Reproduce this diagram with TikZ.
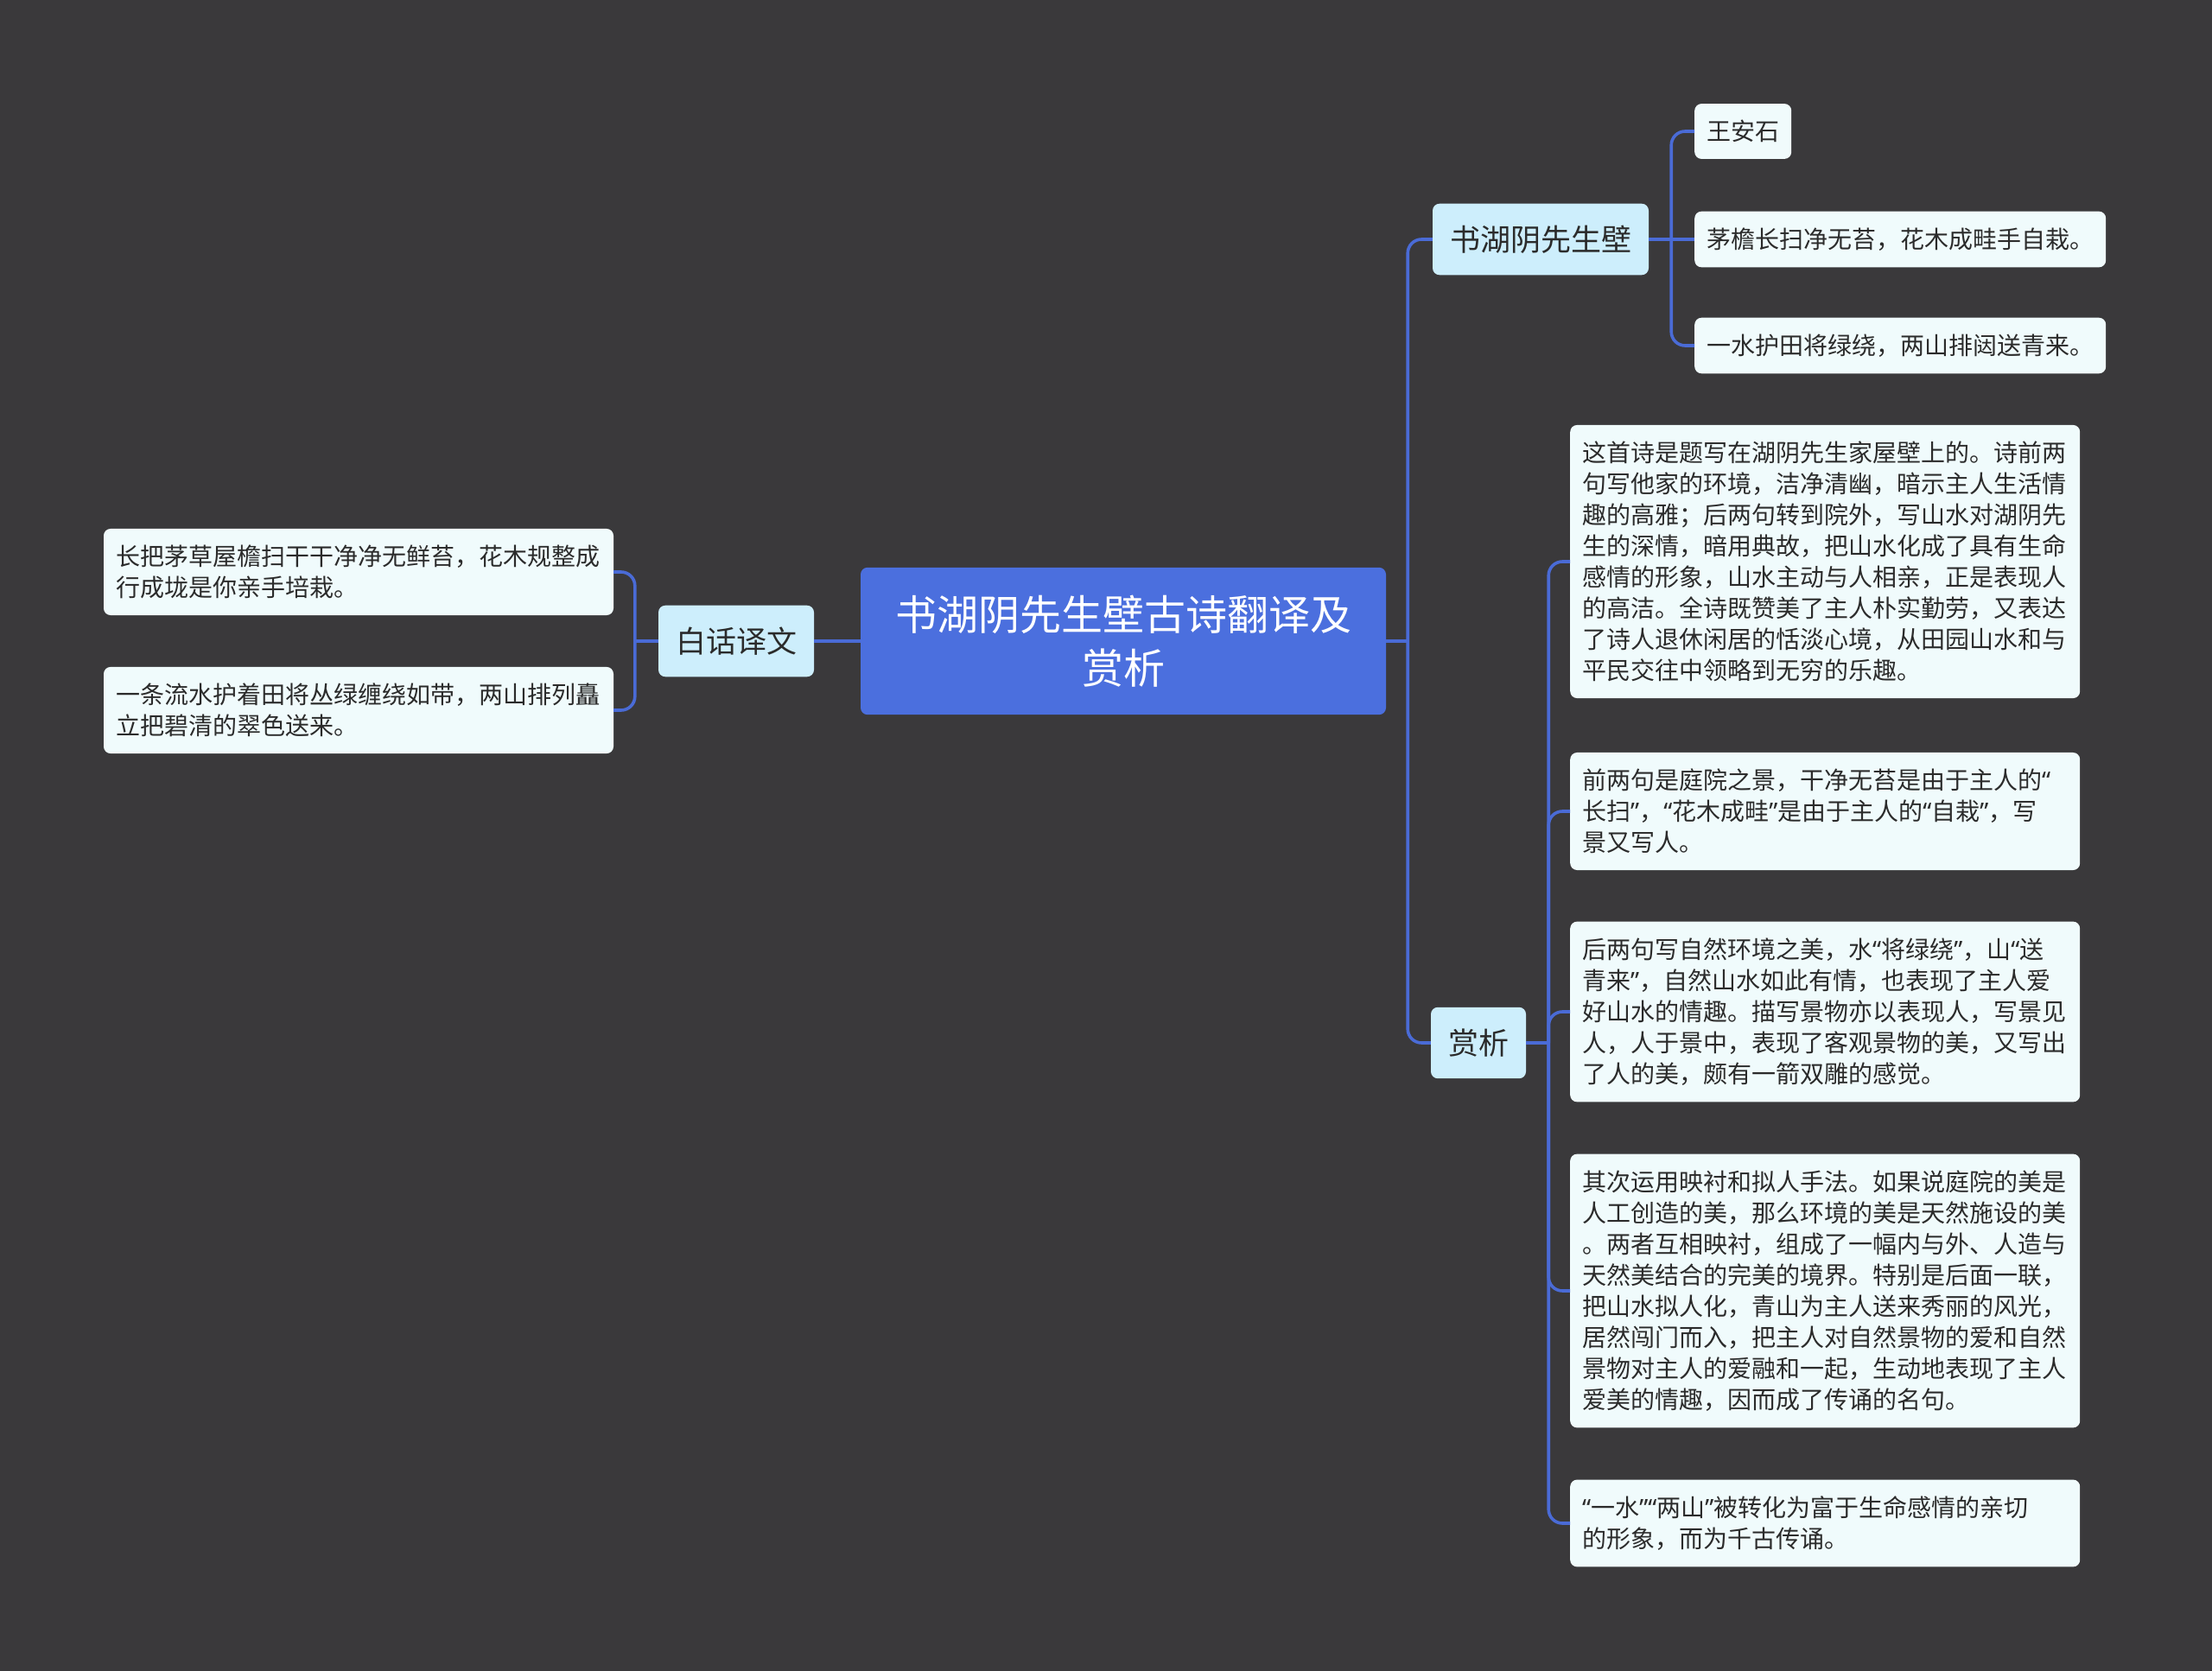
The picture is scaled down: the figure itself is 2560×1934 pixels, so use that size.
\documentclass[tikz,border=0pt]{standalone}
\usepackage{fontspec}
\setmainfont{Noto Sans CJK SC}
\newfontfamily\quotefont{Noto Sans}
\newcommand{\oq}{{\quotefont “}}
\newcommand{\cq}{{\quotefont ”}}
\definecolor{bgdark}{HTML}{3A393B}
\definecolor{rootblue}{HTML}{4B6FDE}
\definecolor{linkblue}{HTML}{4A6BD6}
\definecolor{topicblue}{HTML}{CDEEFC}
\definecolor{leafwhite}{HTML}{F0FBFC}
\definecolor{textdark}{HTML}{2B2B2B}

\begin{document}
\begin{tikzpicture}[
  x=1pt, y=-1pt,
  rootbox/.style={rectangle, rounded corners=8pt, fill=rootblue, text=white, align=center, font=\fontsize{48}{62}\selectfont, inner xsep=40pt, inner ysep=32pt},
  topicbox/.style={rectangle, rounded corners=8pt, fill=topicblue, text=textdark, font=\fontsize{35}{42}\selectfont, inner xsep=20pt, inner ysep=25pt},
  leafbox/.style={rectangle, rounded corners=8pt, fill=leafwhite, text=textdark, align=left, font=\fontsize{28}{36}\selectfont, inner xsep=14pt, inner ysep=19pt},
  wideleaf/.style={leafbox, text width=562pt},
  link/.style={draw=linkblue, line width=3.6pt, rounded corners=16pt}
]
\fill[bgdark] (0,0) rectangle (2560,1934);
\useasboundingbox (0,0) rectangle (2560,1934);

% centre
\node[rootbox] (root) at (1300,742) {书湖阴先生壁古诗翻译及\\赏析};

% left branch
\node[topicbox] (bh) at (852,742) {白话译文};
\node[wideleaf] (bh1) at (415,662) {长把茅草屋檐扫干干净净无鲜苔，花木规整成\\行成垅是你亲手培栽。};
\node[wideleaf] (bh2) at (415,822) {一条流水护着田将丛绿缠绕如带，两山排列矗\\立把碧清的翠色送来。};

% right branch: poem
\node[topicbox] (poem) at (1783,277) {书湖阴先生壁};
\node[leafbox, anchor=west] (poem1) at (1961,152) {王安石};
\node[leafbox, anchor=west] (poem2) at (1961,277) {茅檐长扫净无苔，花木成畦手自栽。};
\node[leafbox, anchor=west] (poem3) at (1961,400) {一水护田将绿绕，两山排闼送青来。};

% right branch: notes
\node[topicbox] (sx) at (1711,1207) {赏析};
\node[wideleaf, anchor=west] (sx1) at (1817,650) {这首诗是题写在湖阴先生家屋壁上的。诗前两\\句写他家的环境，洁净清幽，暗示主人生活情\\趣的高雅；后两句转到院外，写山水对湖阴先\\生的深情，暗用典故，把山水化成了具有生命\\感情的形象，山水主动与人相亲，正是表现人\\的高洁。全诗既赞美了主人朴实勤劳，又表达\\了诗人退休闲居的恬淡心境，从田园山水和与\\平民交往中领略到无穷的乐趣。};
\node[wideleaf, anchor=west] (sx2) at (1817,939) {前两句是庭院之景，干净无苔是由于主人的\oq\\长扫\cq，\oq 花木成畦\cq 是由于主人的\oq 自栽\cq，写\\景又写人。};
\node[wideleaf, anchor=west] (sx3) at (1817,1171) {后两句写自然环境之美，水\oq 将绿绕\cq，山\oq 送\\青来\cq，自然山水如此有情，也表现了主人爱\\好山水的情趣。描写景物亦以表现人，写景见\\人，人于景中，表现了客观景物的美，又写出\\了人的美，颇有一箭双雕的感觉。};
\node[wideleaf, anchor=west] (sx4) at (1817,1494) {其次运用映衬和拟人手法。如果说庭院的美是\\人工创造的美，那么环境的美是天然施设的美\\。两者互相映衬，组成了一幅内与外、人造与\\天然美结合的完美的境界。特别是后面一联，\\把山水拟人化，青山为主人送来秀丽的风光，\\居然闯门而入，把主人对自然景物的爱和自然\\景物对主人的爱融和一起，生动地表现了主人\\爱美的情趣，因而成了传诵的名句。};
\node[wideleaf, anchor=west] (sx5) at (1817,1763) {\oq 一水\cq\oq 两山\cq 被转化为富于生命感情的亲切\\的形象，而为千古传诵。};

% links
\coordinate (rhub) at ([xshift=25pt]root.east);
\coordinate (lhub) at ([xshift=-27pt]bh.west);
\coordinate (phub) at ([xshift=26pt]poem.east);
\coordinate (shub) at ([xshift=26pt]sx.east);
\draw[link] (root.west) -- (bh.east);
\draw[link] (root.east) -- (rhub);
\draw[link] (rhub) |- (poem.west);
\draw[link] (rhub) |- (sx.west);
\draw[link] (bh.west) -- (lhub);
\draw[link] (lhub) |- (bh1.east);
\draw[link] (lhub) |- (bh2.east);
\draw[link] (poem.east) -- (poem2.west);
\draw[link] (phub) |- (poem1.west);
\draw[link] (phub) |- (poem3.west);
\draw[link] (sx.east) -- (shub);
\foreach \leaf in {sx1,sx2,sx3,sx4,sx5}
  \draw[link] (shub) |- (\leaf.west);
\end{tikzpicture}
\end{document}
